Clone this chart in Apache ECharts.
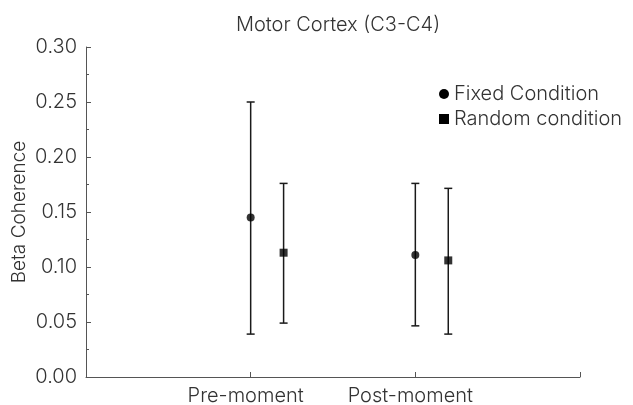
<!DOCTYPE html>
<html>
<head>
<meta charset="utf-8">
<script src="https://cdn.jsdelivr.net/npm/echarts@6/dist/echarts.min.js"></script>
<style>
  html, body { margin: 0; padding: 0; background: #fff; }
  #chart { width: 633px; height: 405px; }
</style>
</head>
<body>
<div id="chart"></div>
<script>
// x positions: 1 = Pre-moment, 2 = Post-moment; random condition is offset a bit to the right
const categories = ['Pre-moment', 'Post-moment'];
const fixedX = [1, 2];
const randomX = [1.2, 2.2];
const fixedMean = [0.145, 0.111];
const fixedLow = [0.039, 0.0465];
const fixedHigh = [0.250, 0.176];
const randomMean = [0.113, 0.106];
const randomLow = [0.049, 0.039];
const randomHigh = [0.176, 0.1715];
const yTicks = [0, 0.05, 0.10, 0.15, 0.20, 0.25, 0.30];

const FONT = 'Inter';
const TEXT = '#333';
const INK = '#1a1a1a';

const chart = echarts.init(document.getElementById('chart'));

// error bar: vertical line plus two caps
const renderErrorBar = (params, api) => {
  const x = api.value(0);
  const lo = api.coord([x, api.value(1)]);
  const hi = api.coord([x, api.value(2)]);
  const half = 4;
  const style = { stroke: INK, lineWidth: 1.5 };
  return {
    type: 'group',
    children: [
      { type: 'line', shape: { x1: lo[0], y1: lo[1], x2: hi[0], y2: hi[1] }, style },
      { type: 'line', shape: { x1: lo[0] - half, y1: lo[1], x2: lo[0] + half, y2: lo[1] }, style },
      { type: 'line', shape: { x1: hi[0] - half, y1: hi[1], x2: hi[0] + half, y2: hi[1] }, style }
    ]
  };
};

const option = {
  animation: false,
  color: ['#000', '#000'],
  textStyle: { fontFamily: FONT },
  title: {
    text: 'Motor Cortex (C3-C4)',
    left: 333,
    textAlign: 'center',
    top: 10,
    textStyle: { fontFamily: FONT, fontWeight: 300, fontSize: 20, color: TEXT }
  },
  legend: {
    orient: 'vertical',
    left: 434,
    top: 79,
    itemWidth: 10,
    itemHeight: 10,
    itemGap: 5,
    textStyle: { fontFamily: FONT, fontWeight: 300, fontSize: 20, color: TEXT, padding: [0, 0, 0, 0] },
    data: [
      { name: 'Fixed Condition', icon: 'circle', itemStyle: { color: '#000' } },
      { name: 'Random condition', icon: 'rect', itemStyle: { color: '#000' } }
    ]
  },
  grid: { left: 86, right: 53, top: 47, bottom: 28, containLabel: false, outerBoundsMode: 'none' },
  xAxis: {
    type: 'value',
    min: 0,
    max: 3,
    interval: 1,
    splitLine: { show: false },
    axisLine: { lineStyle: { color: '#555', width: 1 } },
    axisTick: { inside: true, length: 5, lineStyle: { color: '#555' } },
    axisLabel: {
      margin: 9,
      padding: [0, 10, 0, 0],
      fontFamily: FONT, fontWeight: 300, fontSize: 20, color: TEXT,
      formatter: v => (v === 1 ? categories[0] : v === 2 ? categories[1] : '')
    }
  },
  yAxis: {
    type: 'value',
    min: yTicks[0],
    max: yTicks[yTicks.length - 1],
    interval: 0.05,
    name: 'Beta Coherence',
    nameLocation: 'middle',
    nameGap: 57,
    nameMoveOverlap: false,
    nameTextStyle: { fontFamily: FONT, fontWeight: 300, fontSize: 19, color: TEXT },
    splitLine: { show: false },
    axisLine: { show: true, lineStyle: { color: '#555', width: 1 } },
    axisTick: { inside: true, length: 5, lineStyle: { color: '#555' } },
    minorTick: { show: true, splitNumber: 2, length: 3, lineStyle: { color: '#555' } },
    axisLabel: {
      margin: 9,
      fontFamily: FONT, fontWeight: 300, fontSize: 20, color: TEXT,
      formatter: v => v.toFixed(2)
    }
  },
  series: [
    {
      name: 'Fixed Condition',
      type: 'custom',
      renderItem: renderErrorBar,
      data: fixedX.map((x, i) => [x, fixedLow[i], fixedHigh[i]]),
      z: 1
    },
    {
      name: 'Random condition',
      type: 'custom',
      renderItem: renderErrorBar,
      data: randomX.map((x, i) => [x, randomLow[i], randomHigh[i]]),
      z: 1
    },
    {
      name: 'Fixed Condition',
      type: 'scatter',
      symbol: 'circle',
      symbolSize: 8,
      itemStyle: { color: '#000' },
      data: fixedX.map((x, i) => [x, fixedMean[i]]),
      z: 3
    },
    {
      name: 'Random condition',
      type: 'scatter',
      symbol: 'rect',
      symbolSize: 8,
      itemStyle: { color: '#000' },
      data: randomX.map((x, i) => [x, randomMean[i]]),
      z: 3
    }
  ]
};

chart.setOption(option);
</script>
</body>
</html>
